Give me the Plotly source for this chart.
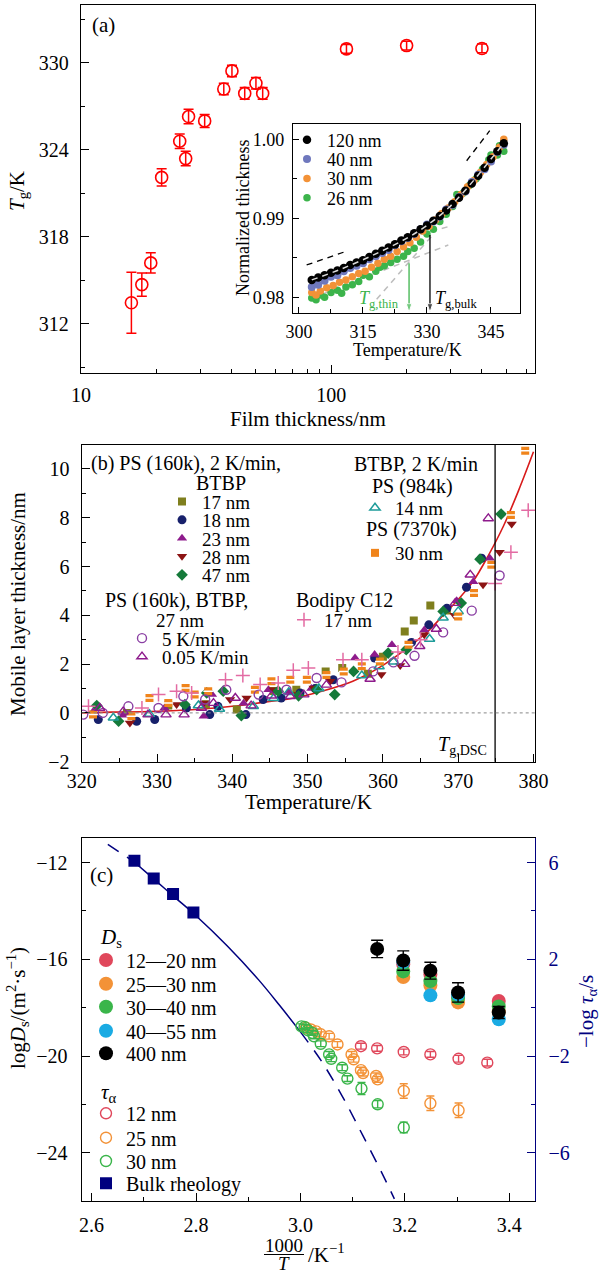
import plotly.graph_objects as go

W, H = 600, 1274
FONT = "Liberation Serif"


def px(x):
    return x / W


def py(y):
    return 1 - y / H


# ---------------- Panel (a): Tg vs film thickness ----------------
film_thickness_nm = [15.9, 17.5, 19.0, 21.0, 24.8, 26.2, 26.9, 31.2, 37.2, 40.1, 45.1, 50.0, 53.2, 115, 200, 400]
tg_K = [313.45, 314.7, 316.2, 322.1, 324.6, 323.4, 326.3, 326.0, 328.2, 329.45, 327.9, 328.6, 327.9, 330.97, 331.2, 331.0]
tg_err_K = [2.1, 0.8, 0.7, 0.6, 0.5, 0.5, 0.5, 0.45, 0.4, 0.4, 0.4, 0.4, 0.4, 0.3, 0.3, 0.3]

# inset: normalized thickness vs temperature
ins_T_120 = [303, 304.5, 306, 307.5, 309, 310.5, 312, 313.5, 315, 316.5, 318, 319.5, 321, 322.5, 324, 325.5, 327, 328.5,
             330, 331.5, 333, 334.5, 336, 337.5, 339, 340.5, 342, 343.5, 345, 346.5, 348]
ins_h_120 = [0.9822, 0.9825, 0.9828, 0.9831, 0.9834, 0.9837, 0.9841, 0.9844, 0.9847, 0.9851, 0.9855, 0.9859, 0.9863,
             0.9867, 0.9872, 0.9876, 0.9881, 0.9886, 0.9891, 0.9897, 0.9903, 0.9910, 0.9918, 0.9926, 0.9935, 0.9944,
             0.9954, 0.9964, 0.9975, 0.9985, 0.9995]
ins_T_40 = [303, 303.5, 304.5, 306, 307.5, 309, 310.5, 312, 313.5, 315, 316.5, 318, 319.5, 321, 322.5, 324, 325.5, 327,
            328.5, 330, 331.5, 333, 334.5, 336, 337.5, 339, 340.5, 342, 343.5, 345, 346.5, 348]
ins_h_40 = [0.9813, 0.9818, 0.9816, 0.9821, 0.9826, 0.9828, 0.9833, 0.9837, 0.9840, 0.9843, 0.9848, 0.9852, 0.9856,
            0.9860, 0.9866, 0.9871, 0.9875, 0.9880, 0.9886, 0.9892, 0.9896, 0.9902, 0.9911, 0.9917, 0.9927, 0.9934,
            0.9946, 0.9955, 0.9962, 0.9972, 0.9984, 0.9993]
ins_T_30 = [303, 304, 305, 306.5, 308, 309.5, 311, 312.5, 314, 315.5, 317, 318.5, 320, 321.5, 323, 324.5, 326, 327.5,
            329, 330.5, 332, 333.5, 335, 336.5, 338, 339.5, 341, 342.5, 344, 345.5, 347, 348]
ins_h_30 = [0.9806, 0.9803, 0.9808, 0.9812, 0.9815, 0.9819, 0.9822, 0.9826, 0.9830, 0.9833, 0.9838, 0.9843, 0.9848,
            0.9852, 0.9858, 0.9864, 0.9869, 0.9876, 0.9884, 0.9890, 0.9898, 0.9906, 0.9913, 0.9921, 0.9930, 0.9940,
            0.9948, 0.9958, 0.9968, 0.9978, 0.9990, 1.0000]
ins_T_26 = [303, 304, 305, 306, 307.5, 309, 310, 311, 312.5, 314, 315, 316.5, 318, 319, 320, 321.5, 323, 324.5, 325.5,
            327, 328.5, 330, 331.5, 333, 334.5, 336, 337, 338.5, 340, 341.5, 343, 344.5, 345, 346.5, 347, 348]
ins_h_26 = [0.9799, 0.9797, 0.9803, 0.9800, 0.9806, 0.9809, 0.9805, 0.9813, 0.9816, 0.9820, 0.9828, 0.9826, 0.9833,
            0.9838, 0.9840, 0.9844, 0.9848, 0.9852, 0.9858, 0.9862, 0.9870, 0.9880, 0.9886, 0.9896, 0.9905, 0.9915,
            0.9930, 0.9932, 0.9942, 0.9950, 0.9962, 0.9974, 0.9980, 0.9980, 0.9992, 0.9985]
# guide lines in inset (T, normalized thickness)
fit_T_120 = [303, 310, 318, 325, 330, 335, 340, 345, 348]
fit_h_120 = [0.9822, 0.9836, 0.9855, 0.9874, 0.9891, 0.9913, 0.9942, 0.9975, 0.9995]
glass_T_bulk = [301.8, 310.8]
glass_h_bulk = [0.98409, 0.98577]
melt_T_bulk = [339.3, 344.7]
melt_h_bulk = [0.99729, 1.00109]
glass_T_thin = [303.0, 335.0]
glass_h_thin = [0.97987, 0.98662]
melt_T_thin = [318.2, 331.0]
melt_h_thin = [0.97975, 0.98770]
glass2_T = [326.0, 335.0]
glass2_h = [0.98760, 0.98894]
Tg_thin_K = 325.8
Tg_bulk_K = 330.7
arrow_thin_h = [0.9843, 0.9781]
arrow_bulk_h = [0.9879, 0.9781]

# ---------------- Panel (b): mobile layer thickness ----------------
b17_T = [326.0, 331.5, 336.5, 340.6, 345.5, 348.5, 352.4, 354.6, 358.0, 360.0, 362.9, 364.1, 366.3, 368.5]
b17_v = [0.0, 0.3, 0.35, 0.14, 0.9, 0.95, 1.7, 1.84, 1.6, 2.3, 3.34, 3.79, 4.4, 4.2]
b18_T = [322.2, 327.3, 329.7, 333.9, 337.0, 338.1, 341.8, 344.1, 346.5, 349.0, 351.0, 353.4, 358.9, 363.8, 366.1, 368.5,
         371.1, 373.1]
b18_v = [-0.27, -0.34, -0.27, 0.2, -0.07, 0.27, -0.07, 0.55, 0.61, 0.82, 1.0, 1.36, 2.25, 2.89, 3.61, 4.29, 5.15, 6.34]
b23_T = [321.5, 325.5, 331.0, 336.2, 337.3, 341.5, 344.8, 347.5, 350.5, 356.3, 358.9, 361.2, 365.5, 369.8, 372.0, 374.2]
b23_v = [0.05, -0.1, 0.2, -0.14, 0.75, 0.4, 0.95, 0.85, 1.0, 2.25, 2.39, 2.79, 3.4, 4.6, 5.38, 6.34]
b28_T = [326.4, 332.6, 336.2, 339.7, 341.9, 345.5, 348.5, 350.8, 353.0, 359.8, 362.3, 365.5, 369.5, 373.3, 375.5, 377.1]
b28_v = [-0.41, 0.34, 0.41, 0.55, 0.61, 0.95, 0.75, 1.02, 1.3, 1.57, 1.94, 3.2, 4.0, 5.25, 6.58, 7.74]
b47_T = [322.0, 324.9, 333.7, 336.6, 338.8, 341.2, 346.1, 348.8, 351.2, 353.6, 356.1, 360.7, 363.1, 368.0, 370.4, 372.9,
         375.7]
b47_v = [0.30, -0.34, 0.34, 0.82, 0.89, -0.11, 0.89, 0.7, 0.95, 0.75, 1.70, 2.45, 2.59, 4.16, 4.5, 6.3, 8.15]
b14_T = [324.2, 329.0, 335.5, 338.3, 342.8, 345.5, 347.5, 351.5, 357.2, 359.5, 361.4, 366.2, 368.0, 370.0]
b14_v = [-0.2, -0.05, 0.3, 0.16, 0.27, 0.6, 0.85, 1.0, 1.53, 1.9, 2.1, 3.03, 3.9, 4.16]
b30_T = [321.5, 326.6, 329.0, 331.5, 333.8, 335.0, 336.8, 343.0, 345.2, 347.7, 349.9, 352.5, 354.8, 357.2, 359.6,
         363.4, 370.0, 372.1, 374.4, 377.0, 378.9]
b30_v = [-0.07, -0.14, 0.61, 0.41, 1.02, 0.75, 0.89, 0.95, 1.30, 1.36, 1.36, 1.55, 1.7, 1.91, 2.11, 2.79, 3.95, 4.91,
         6.07, 8.11, 10.74]
b5K_T = [320.2, 322.8, 326.2, 330.2, 333.5, 336.4, 339.2, 343.5, 347.2, 351.2, 354.5, 358.7, 361.4, 364.2, 368.0,
         371.8, 375.5]
b5K_v = [-0.07, 0.0, 0.27, 0.20, 0.68, 0.55, 0.95, 0.75, 0.95, 1.43, 1.25, 1.70, 2.07, 2.34, 3.30, 4.19, 5.63]
b005K_T = [322.4, 325.5, 328.8, 331.2, 333.6, 335.9, 337.5, 340.4, 342.5, 345.2, 347.7, 349.5, 352.5, 358.3, 362.9,
           364.9, 367.1, 369.6, 371.6, 374.0]
b005K_v = [0.2, 0.05, -0.07, -0.07, -0.07, 0.2, 0.4, 0.61, 0.3, 0.7, 0.68, 0.75, 1.15, 1.39, 2.0, 2.73, 3.44, 4.5, 5.66,
           7.97]
bBod_T = [320.9, 328.0, 330.2, 332.6, 334.6, 339.1, 341.4, 343.7, 346.1, 348.1, 350.1, 354.7, 357.2, 362.0, 365.0,
          374.9, 377.0, 379.3]
bBod_v = [0.27, 0.20, 0.75, 0.89, 0.82, 1.36, 1.53, 1.16, 1.23, 1.75, 1.84, 2.18, 2.18, 2.5, 3.0, 5.3, 6.58, 8.31]
fitb_T = [320, 324, 328, 332, 336, 340, 344, 348, 352, 356, 360, 363, 366, 368, 370, 372, 374, 376, 378, 380]
fitb_v = [0.0, 0.03, 0.05, 0.09, 0.16, 0.27, 0.43, 0.6, 0.9, 1.3, 1.95, 2.6, 3.35, 4.0, 4.65, 5.4, 6.45, 7.65, 9.1, 10.7]
Tg_DSC_K = 374.9

# ---------------- Panel (c): diffusion / relaxation ----------------
ds_x = [3.197, 3.249, 3.302, 3.380]
ds_12_20 = [-16.2, -16.63, -17.55, -17.72]
ds_25_30 = [-16.73, -17.08, -17.78, -18.15]
ds_30_40 = [-16.5, -16.9, -17.6, -17.95]
ds_40_55 = [-16.1, -17.49, -17.45, -18.48]
ds400_x = [3.147, 3.197, 3.249, 3.302, 3.380]
ds_400 = [-15.57, -16.05, -16.47, -17.37, -18.2]
ds_400_err = [0.36, 0.4, 0.35, 0.4, 0.25]

tau12_x = [3.116, 3.147, 3.198, 3.249, 3.303, 3.358]
tau12 = [-1.59, -1.68, -1.83, -1.93, -2.11, -2.27]
tau12_err = [0.12, 0.12, 0.12, 0.12, 0.14, 0.14]
tau25_x = [3.011, 3.02, 3.03, 3.039, 3.055, 3.071, 3.098, 3.102, 3.116, 3.12, 3.145, 3.148, 3.198, 3.249, 3.303]
tau25 = [-0.83, -0.9, -0.98, -1.1, -1.18, -1.52, -1.93, -2.13, -2.58, -2.7, -2.82, -2.96, -3.44, -3.95, -4.24]
tau25_err = [0.1, 0.1, 0.1, 0.1, 0.12, 0.12, 0.12, 0.12, 0.12, 0.12, 0.12, 0.12, 0.3, 0.3, 0.3]
tau30_x = [3.002, 3.008, 3.014, 3.023, 3.026, 3.039, 3.055, 3.059, 3.080, 3.09, 3.117, 3.148, 3.198]
tau30 = [-0.77, -0.8, -0.93, -1.04, -1.18, -1.49, -1.93, -2.11, -2.48, -2.93, -3.34, -3.99, -4.95]
tau30_err = [0.1, 0.1, 0.1, 0.1, 0.1, 0.12, 0.12, 0.12, 0.12, 0.12, 0.25, 0.15, 0.22]
bulk_x = [2.682, 2.719, 2.756, 2.795]
bulk_tau = [6.07, 5.34, 4.7, 3.93]
vft_x_lo = [2.631, 2.655, 2.68]
vft_lo = [6.75, 6.4, 6.05]
vft_x_mid = [2.68, 2.72, 2.76, 2.80, 2.86, 2.92, 2.96, 3.00]
vft_mid = [6.05, 5.3, 4.55, 3.8, 2.55, 1.15, 0.1, -1.0]
vft_x_hi = [3.00, 3.04, 3.08, 3.12, 3.16, 3.18]
vft_hi = [-1.0, -2.2, -3.65, -5.3, -7.0, -7.9]

# ---------------- colours ----------------
RED = "#ff0000"
IN_BLACK, IN_BLUE, IN_ORANGE, IN_GREEN = "#000000", "#6f78bd", "#f39237", "#3cb44b"
OLIVE, NAVYC, PURPLE, DARKRED, DGREEN = "#7f7f1e", "#17206b", "#8e1b8c", "#8c1414", "#157a3a"
TEAL, ORANGE_B, VIOLET, PINK, FITRED = "#1e9c9a", "#f0841b", "#8a3fa3", "#e36ba3", "#d81b1b"
C_RED, C_OR, C_GR, C_CY, NAVY = "#e0475b", "#f39237", "#3ab54a", "#1aabe3", "#00007f"

fig = go.Figure()

# panel a
fig.add_trace(go.Scatter(
    x=film_thickness_nm, y=tg_K, mode="markers", xaxis="x", yaxis="y", showlegend=False,
    marker=dict(symbol="circle-open", size=12, color=RED, line=dict(width=1.6, color=RED)),
    error_y=dict(type="data", array=tg_err_K, color=RED, thickness=1.5, width=5)))

# inset guide lines (under data)
grey_dash = dict(color="#bdbdbd", width=1.5, dash="6px,5px")
for gx, gy in [(glass_T_thin, glass_h_thin), (melt_T_thin, melt_h_thin), (glass2_T, glass2_h)]:
    fig.add_trace(go.Scatter(x=gx, y=gy, mode="lines", xaxis="x2", yaxis="y2", showlegend=False, line=grey_dash))
inset_series = [
    (ins_T_26, ins_h_26, IN_GREEN, "26 nm", "legend4", 7.5),
    (ins_T_30, ins_h_30, IN_ORANGE, "30 nm", "legend3", 7.5),
    (ins_T_40, ins_h_40, IN_BLUE, "40 nm", "legend2", 8),
    (ins_T_120, ins_h_120, IN_BLACK, "120 nm", "legend", 8.5),
]
for tx, hy, col, name, lg, sz in inset_series:
    fig.add_trace(go.Scatter(x=tx, y=hy, mode="markers", xaxis="x2", yaxis="y2", name=name, legend=lg,
                             marker=dict(symbol="circle", size=sz, color=col)))
fig.add_trace(go.Scatter(x=fit_T_120, y=fit_h_120, mode="lines", xaxis="x2", yaxis="y2", showlegend=False,
                         line=dict(color="#d9d9d9", width=1.5, dash="6px,5px", shape="spline")))
for gx, gy in [(glass_T_bulk, glass_h_bulk), (melt_T_bulk, melt_h_bulk)]:
    fig.add_trace(go.Scatter(x=gx, y=gy, mode="lines", xaxis="x2", yaxis="y2", showlegend=False,
                             line=dict(color="black", width=1.3, dash="6px,5px")))
# Tg arrows (vertical line with arrow head at the lower end)
for tg, hy, col in [(Tg_thin_K, arrow_thin_h, IN_GREEN), (Tg_bulk_K, arrow_bulk_h, "black")]:
    fig.add_trace(go.Scatter(x=[tg, tg], y=hy, mode="lines+markers", xaxis="x2", yaxis="y2", showlegend=False,
                             line=dict(color=col, width=1.3),
                             marker=dict(symbol="arrow", angleref="previous", size=[0, 9], color=col)))

# panel b
fig.add_trace(go.Scatter(x=fitb_T, y=fitb_v, mode="lines", xaxis="x3", yaxis="y3", showlegend=False,
                         line=dict(color=FITRED, width=1.6, shape="spline")))
b_series = [
    (b17_T, b17_v, dict(symbol="square", size=8, color=OLIVE), "17 nm", "legend5"),
    (b18_T, b18_v, dict(symbol="circle", size=9, color=NAVYC), "18 nm", "legend6"),
    (b23_T, b23_v, dict(symbol="triangle-up", size=9, color=PURPLE), "23 nm", "legend7"),
    (b28_T, b28_v, dict(symbol="triangle-down", size=9, color=DARKRED), "28 nm", "legend8"),
    (b47_T, b47_v, dict(symbol="diamond", size=9, color=DGREEN), "47 nm", "legend9"),
    (b14_T, b14_v, dict(symbol="triangle-up-open", size=9, color=TEAL, line=dict(width=1.5, color=TEAL)), "14 nm",
     "legend10"),
    (b30_T, b30_v, dict(symbol="square", size=8, color=ORANGE_B), "30 nm", "legend11"),
    (b5K_T, b5K_v, dict(symbol="circle-open", size=9, color=VIOLET, line=dict(width=1.4, color=VIOLET)), "5 K/min",
     "legend12"),
    (b005K_T, b005K_v, dict(symbol="triangle-up-open", size=9, color=PURPLE, line=dict(width=1.4, color=PURPLE)),
     "0.05 K/min", "legend13"),
    (bBod_T, bBod_v, dict(symbol="cross-thin-open", size=10, color=PINK, line=dict(width=1.5, color=PINK)), "17 nm",
     "legend14"),
]
for tx, vy, mk, name, lg in b_series:
    fig.add_trace(go.Scatter(x=tx, y=vy, mode="markers", xaxis="x3", yaxis="y3", name=name, legend=lg, marker=mk))
    if name == "30 nm":
        fig.add_trace(go.Scatter(x=tx, y=vy, mode="markers", xaxis="x3", yaxis="y3", showlegend=False,
                                 marker=dict(symbol="line-ew", size=7, line=dict(width=1.5, color="white"))))

# panel c
dash_line = dict(color=NAVY, width=1.5, dash="13px,10px")
fig.add_trace(go.Scatter(x=vft_x_lo, y=vft_lo, mode="lines", xaxis="x4", yaxis="y5", showlegend=False,
                         line=dash_line))
fig.add_trace(go.Scatter(x=vft_x_mid, y=vft_mid, mode="lines", xaxis="x4", yaxis="y5", showlegend=False,
                         line=dict(color=NAVY, width=1.5, shape="spline")))
fig.add_trace(go.Scatter(x=vft_x_hi, y=vft_hi, mode="lines", xaxis="x4", yaxis="y5", showlegend=False,
                         line=dict(dash_line, shape="spline")))
for tx, ty, te, col, name, lg in [
    (tau12_x, tau12, tau12_err, C_RED, "12 nm", "legend20"),
    (tau25_x, tau25, tau25_err, C_OR, "25 nm", "legend21"),
    (tau30_x, tau30, tau30_err, C_GR, "30 nm", "legend22"),
]:
    fig.add_trace(go.Scatter(x=tx, y=ty, mode="markers", xaxis="x4", yaxis="y5", name=name, legend=lg,
                             marker=dict(symbol="circle-open", size=11, color=col, line=dict(width=1.4, color=col)),
                             error_y=dict(type="data", array=te, color=col, thickness=1.4, width=4)))
for dy, col, name, lg in [
    (ds_12_20, C_RED, "12—20 nm", "legend15"),
    (ds_25_30, C_OR, "25—30 nm", "legend16"),
    (ds_30_40, C_GR, "30—40 nm", "legend17"),
    (ds_40_55, C_CY, "40—55 nm", "legend18"),
]:
    fig.add_trace(go.Scatter(x=ds_x, y=dy, mode="markers", xaxis="x4", yaxis="y4", name=name, legend=lg,
                             marker=dict(symbol="circle", size=14, color=col)))
fig.add_trace(go.Scatter(x=ds400_x, y=ds_400, mode="markers", xaxis="x4", yaxis="y4", name="400 nm",
                         legend="legend19", marker=dict(symbol="circle", size=14, color="black"),
                         error_y=dict(type="data", array=ds_400_err, color="black", thickness=1.4, width=6)))
fig.add_trace(go.Scatter(x=bulk_x, y=bulk_tau, mode="markers", xaxis="x4", yaxis="y5", name="Bulk rheology",
                         legend="legend23", marker=dict(symbol="square", size=12, color=NAVY)))


# ---------------- axes ----------------
def mlabel(v, fmt="{:g}"):
    s = fmt.format(v)
    return s.replace("-", "−")


def ax(domain, rng, tickvals, minor_vals, anchor, size=20, fmt="{:g}", color="black", standoff=5, **kw):
    d = dict(domain=domain, range=rng, anchor=anchor, tickmode="array", tickvals=tickvals,
             ticktext=[mlabel(v, fmt) for v in tickvals], ticks="inside", ticklen=8, tickwidth=1.2,
             tickcolor=color, showline=True, linecolor=color, linewidth=1.3, mirror=True, showgrid=False,
             zeroline=False, automargin=False, ticklabelstandoff=standoff,
             tickfont=dict(family=FONT, size=size, color=color),
             minor=dict(tickvals=minor_vals, ticks="inside", ticklen=4, tickwidth=1.1, tickcolor=color, showgrid=False))
    d.update(kw)
    return d


fig.update_layout(
    xaxis=ax([px(81), px(535)], [1, 2.814], [10, 100], [20, 30, 40, 50, 60, 70, 80, 90, 200, 300, 400, 500, 600], "y",
             type="log", standoff=4),
    yaxis=ax([py(373), py(5)], [308.6, 334], [312, 318, 324, 330], [309, 315, 321, 327, 333], "x", standoff=7),
    xaxis2=ax([px(293), px(520)], [298.6, 351.8], [300, 315, 330, 345], [307.5, 322.5, 337.5], "y2", size=18,
              ticklen=6, standoff=2),
    yaxis2=ax([py(313), py(124)], [0.97801, 1.00194], [0.98, 0.99, 1.00], [0.985, 0.995], "x2", size=18,
              fmt="{:.2f}", ticklen=6, standoff=4),
    xaxis3=ax([px(81.7), px(535)], [320, 380.2], [320, 330, 340, 350, 360, 370, 380],
              [325, 335, 345, 355, 365, 375], "y3", standoff=1),
    yaxis3=ax([py(761.7), py(445)], [-2, 10.98], [-2, 0, 2, 4, 6, 8, 10], [-1, 1, 3, 5, 7, 9], "x3", standoff=7),
    xaxis4=ax([px(81.7), px(535.3)], [2.581, 3.45], [2.6, 2.8, 3.0, 3.2, 3.4], [2.7, 2.9, 3.1, 3.3], "y4",
              fmt="{:.1f}", standoff=6),
    yaxis4=ax([py(1201.3), py(838.3)], [-26, -11], [-24, -20, -16, -12], [-22, -18, -14], "x4", mirror=False,
              standoff=9),
    yaxis5=ax([py(1201.3), py(838.3)], [-8, 7], [-6, -2, 2, 6], [-4, 0, 4], "x4", color=NAVY, overlaying="y4",
              side="right", mirror=False, standoff=8),
)


def leg(x0, yc, size=21):
    return dict(x=px(x0), y=py(yc), xanchor="left", yanchor="middle", bgcolor="rgba(0,0,0,0)", borderwidth=0,
                font=dict(family=FONT, size=size, color="black"), itemwidth=30, tracegroupgap=0,
                itemclick=False, itemdoubleclick=False)


legends = {}
# inset
for key, yc in [("legend", 140), ("legend2", 159.3), ("legend3", 178.7), ("legend4", 198)]:
    legends[key] = leg(287, yc, 18)
# panel b
for key, yc in zip(["legend5", "legend6", "legend7", "legend8", "legend9"], [501.7, 520, 538.3, 556.5, 575]):
    legends[key] = leg(162, yc, 19)
legends["legend10"] = leg(355, 508, 19)
legends["legend11"] = leg(355, 553, 19)
legends["legend12"] = leg(122, 638.3, 19)
legends["legend13"] = leg(122, 656.7, 19)
legends["legend14"] = leg(284, 620, 19)
# panel c
for key, yc in zip(["legend15", "legend16", "legend17", "legend18", "legend19"], [960, 983.7, 1006.7, 1030.7, 1053.3]):
    legends[key] = leg(86, yc, 20)
for key, yc in zip(["legend20", "legend21", "legend22", "legend23"], [1113.3, 1137.7, 1161, 1183.3]):
    legends[key] = leg(86, yc, 20)
fig.update_layout(**legends)

# ---------------- annotations ----------------
ann = []


def text(x, y, s, size=21, xanchor="center", color="black", angle=0):
    ann.append(dict(x=px(x), y=py(y), xref="paper", yref="paper", text=s, showarrow=False, xanchor=xanchor,
                    yanchor="middle", textangle=angle, font=dict(family=FONT, size=size, color=color)))


text(90, 25, "(a)", xanchor="left")
text(18, 191, "<i>T</i><sub>g</sub>/K", angle=-90)
text(308, 419, "Film thickness/nm")
text(243, 218, "Normalized thickness", size=18, angle=-90)
text(407, 350, "Temperature/K", size=18)
text(357, 299, "<i>T</i><sub>g,thin</sub>", size=18, xanchor="left", color=IN_GREEN)
text(433, 299, "<i>T</i><sub>g,bulk</sub>", size=18, xanchor="left")

text(89, 463.5, "(b) PS (160k), 2 K/min,", size=20, xanchor="left")
text(221, 483, "BTBP", size=20)
text(416, 463.5, "BTBP, 2 K/min", size=20)
text(412, 486.5, "PS (984k)", size=20)
text(411, 530, "PS (7370k)", size=20)
text(176, 600, "PS (160k), BTBP,", size=20)
text(180, 620.5, "27 nm", size=19)
text(344, 600, "Bodipy C12", size=20)
text(462, 745, "<i>T</i><sub>g,DSC</sub>", size=20)
text(18, 604, "Mobile layer thickness/nm", angle=-90)
text(308, 802, "Temperature/K")

text(88, 875, "(c)", xanchor="left")
text(98, 938, "<i>D</i><sub>s</sub>", xanchor="left")
text(99, 1093, "<i>τ</i><sub>α</sub>", xanchor="left")
text(17, 1008, "log<i>D</i><sub>s</sub>/(m<sup>2</sup>·s<sup>−1</sup>)", angle=-90)
text(587, 1012, "−log <i>τ</i><sub>α</sub>/s", angle=-90, color=NAVY)
text(284, 1245, "1000", size=19)
text(284, 1263, "<i>T</i>", size=19)
text(306, 1253, "/K<sup>−1</sup>", xanchor="left")

shapes = [
    dict(type="line", xref="x3", yref="y3 domain", x0=Tg_DSC_K, x1=Tg_DSC_K, y0=0, y1=1,
         line=dict(color="black", width=1.3)),
    dict(type="line", xref="x3 domain", yref="y3", x0=0, x1=1, y0=0, y1=0,
         line=dict(color="#888888", width=1, dash="dot")),
    dict(type="line", xref="paper", yref="paper", x0=px(264), x1=px(304), y0=py(1254.5), y1=py(1254.5),
         line=dict(color="black", width=1.2)),
]

fig.update_layout(
    width=W, height=H, margin=dict(l=0, r=0, t=0, b=0), paper_bgcolor="white", plot_bgcolor="white",
    font=dict(family=FONT, size=20, color="black"), annotations=ann, shapes=shapes,
)

fig.write_html("out.html", config={"displayModeBar": False},
               post_script="document.body.style.margin='0px';document.body.style.padding='0px';")
